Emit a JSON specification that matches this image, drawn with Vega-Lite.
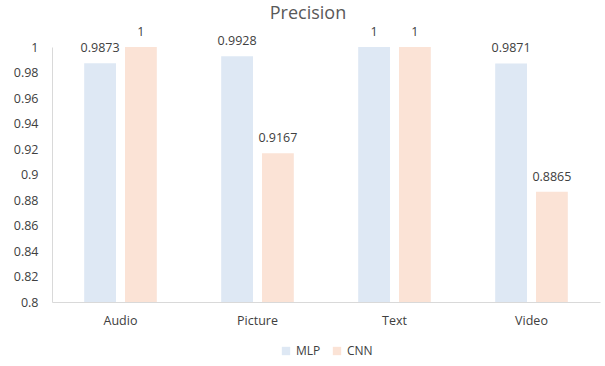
{
  "$schema": "https://vega.github.io/schema/vega-lite/v6.json",
  "width": 548,
  "height": 255,
  "autosize": {"type": "none"},
  "padding": {"left": 52, "top": 47, "right": 5, "bottom": 64},
  "background": "white",
  "config": {
    "view": {"stroke": null},
    "font": "Open Sans",
    "axis": {"labelColor": "#595959", "labelFont": "Open Sans", "labelFontSize": 12, "ticks": false, "grid": false, "domainColor": "#D9D9D9", "title": null}
  },
  "title": {"text": "Precision", "fontSize": 18, "font": "Open Sans", "fontWeight": "normal", "color": "#595959", "anchor": "middle", "dx": -18, "offset": 3},
  "data": {"values": [
    {"cat": "Audio", "model": "MLP", "value": 0.9873, "label": "0.9873"},
    {"cat": "Audio", "model": "CNN", "value": 1, "label": "1"},
    {"cat": "Picture", "model": "MLP", "value": 0.9928, "label": "0.9928"},
    {"cat": "Picture", "model": "CNN", "value": 0.9167, "label": "0.9167"},
    {"cat": "Text", "model": "MLP", "value": 1, "label": "1"},
    {"cat": "Text", "model": "CNN", "value": 1, "label": "1"},
    {"cat": "Video", "model": "MLP", "value": 0.9871, "label": "0.9871"},
    {"cat": "Video", "model": "CNN", "value": 0.8865, "label": "0.8865"}
  ]},
  "encoding": {
    "x": {"field": "cat", "type": "nominal", "sort": ["Audio", "Picture", "Text", "Video"], "scale": {"paddingInner": 0.47, "paddingOuter": 0.235}, "axis": {"labelAngle": 0, "labelPadding": 12, "labelColor": "#404040", "labelFontSize": 12.5}},
    "xOffset": {"field": "model", "type": "nominal", "sort": ["MLP", "CNN"], "scale": {"paddingInner": 0.22}},
    "y": {"field": "value", "type": "quantitative", "scale": {"domain": [0.8, 1], "zero": false, "clamp": true}, "axis": {"values": [0.8, 0.82, 0.84, 0.86, 0.88, 0.9, 0.92, 0.94, 0.96, 0.98, 1], "format": ".2~f", "labelPadding": 14, "labelColor": "#404040", "labelFontSize": 12.5}}
  },
  "layer": [
    {
      "mark": {"type": "bar"},
      "encoding": {
        "color": {"field": "model", "type": "nominal", "sort": ["MLP", "CNN"], "scale": {"domain": ["MLP", "CNN"], "range": ["#DEE8F4", "#FBE3D6"]},
          "legend": {"title": null, "orient": "none", "direction": "horizontal", "legendX": 228, "legendY": 298, "symbolType": "square", "symbolSize": 70, "symbolStrokeWidth": 0, "labelFontSize": 12, "labelColor": "#404040", "labelFont": "Open Sans", "columnPadding": 10}}
      }
    },
    {
      "mark": {"type": "text", "dy": -15, "fontSize": 12.5, "color": "#404040", "font": "Open Sans"},
      "encoding": {"text": {"field": "label"}}
    }
  ]
}
